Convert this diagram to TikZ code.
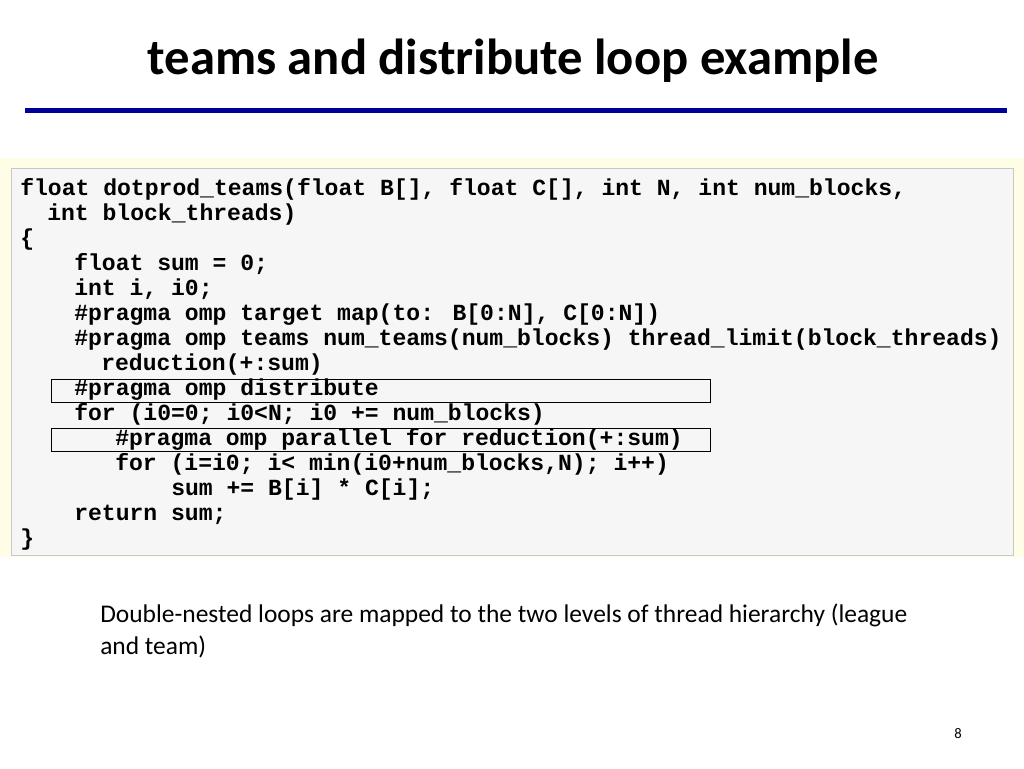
\documentclass[tikz,border=0pt]{standalone}
\usepackage{fontspec}
\setmainfont{Carlito}
\newfontfamily\codefont{Liberation Mono}
\begin{document}
\begin{tikzpicture}[x=0.75pt,y=-0.75pt,
  code/.style={anchor=base west,inner sep=0pt,font=\codefont\bfseries\fontsize{17.3}{20}\selectfont},
  hl/.style={draw=black,line width=0.6pt}]
\useasboundingbox (0,0) rectangle (1024,768);
\node[font=\bfseries\fontsize{38}{44}\selectfont,anchor=base] (title) at (513,74) {teams and distribute loop example};
\fill[fill={rgb,255:red,0;green,0;blue,150}] (25,108) rectangle (1007,113);
\fill[fill={rgb,255:red,255;green,253;blue,230}] (0,158) rectangle (1024,557);
\draw[fill={rgb,255:red,246;green,246;blue,246},draw={rgb,255:red,200;green,200;blue,200}] (11,168) rectangle (1013,555);
\draw[hl] (51,379) rectangle (710,402);
\draw[hl] (51,428) rectangle (710,451);
\node[code] (l1) at (20,195) {float dotprod\_teams(float B[], float C[], int N, int num\_blocks,};
\node[code] (l2) at (47,220) {int block\_threads)};
\node[code] (l3) at (20,245) {\{};
\node[code] (l4) at (74,270) {float sum = 0;};
\node[code] (l5) at (74,295) {int i, i0;};
\node[code] (l6) at (74,320) {\#pragma omp target map(to: B[0:N], C[0:N])};
\node[code] (l7) at (74,345) {\#pragma omp teams num\_teams(num\_blocks) thread\_limit(block\_threads)};
\node[code] (l8) at (101,370) {reduction(+:sum)};
\node[code] (l9) at (74,395) {\#pragma omp distribute};
\node[code] (l10) at (74,420) {for (i0=0; i0<N; i0 += num\_blocks)};
\node[code] (l11) at (115,445) {\#pragma omp parallel for reduction(+:sum)};
\node[code] (l12) at (115,470) {for (i=i0; i< min(i0+num\_blocks,N); i++)};
\node[code] (l13) at (171,495) {sum += B[i] * C[i];};
\node[code] (l14) at (74,520) {return sum;};
\node[code] (l15) at (20,545) {\}};
\node[anchor=base west,inner sep=0pt,font=\fontsize{19.1}{23.3}\selectfont,align=left] (body) at (100,654)
 {Double-nested loops are mapped to the two levels of thread hierarchy (league\\and team)};
\node[anchor=base,inner sep=0pt,font=\fontsize{11}{13}\selectfont] (pg) at (958,738) {8};
\end{tikzpicture}
\end{document}
